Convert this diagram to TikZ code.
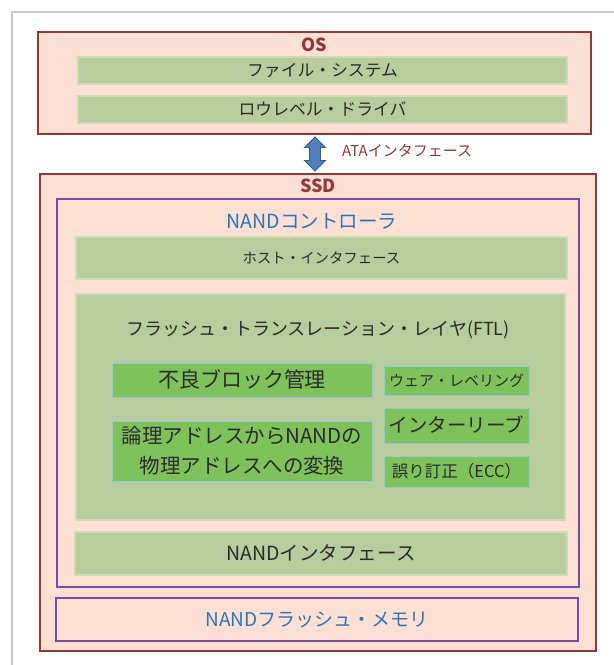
\documentclass[tikz,border=0pt]{standalone}
\usepackage{fontspec}
\setmainfont{Noto Sans CJK JP}
\usetikzlibrary{shapes.arrows}
\definecolor{peach}{HTML}{FBE0D3}
\definecolor{dred}{HTML}{953735}
\definecolor{bar}{HTML}{B8CC9C}
\definecolor{barline}{HTML}{CCDDB4}
\definecolor{bgreen}{HTML}{7EC25B}
\definecolor{bline}{HTML}{95C6DC}
\definecolor{purp}{HTML}{7B4BA8}
\definecolor{tblue}{HTML}{2E75B6}
\definecolor{arrfill}{HTML}{4F81BD}
\definecolor{arrline}{HTML}{385D8A}
\definecolor{txt}{HTML}{2B2B2B}
\newcommand{\fs}[1]{\fontsize{#1}{#1}\selectfont}
\tikzset{
  fsz/.style={font=\fs{#1}, text height={#1*0.87pt}, text depth={#1*0.13pt}},
  box/.style={rectangle, inner sep=0pt, outer sep=0pt},
  outerbox/.style={box, draw=dred, line width=2pt, fill=peach},
  purpbox/.style={box, draw=purp, line width=2.5pt},
  barbox/.style={box, draw=barline, line width=1.5pt, fill=bar, text=txt},
  gbox/.style={box, draw=bline, line width=1pt, fill=bgreen, text=txt},
  lbl/.style={inner sep=0pt},
}
\begin{document}
\begin{tikzpicture}[x=1pt,y=-1pt]
\useasboundingbox (0,0) rectangle (614,665);
\draw[color=black!22, line width=1.2pt] (12,670) -- (12,12) -- (620,12);
% OS
\node[outerbox, minimum width=553pt, minimum height=102pt] (os) at (314.5,83) {};
\node[lbl, fsz=18, font=\fs{18}\bfseries, text=dred] (oslbl) at (314.5,45) {OS};
\node[barbox, minimum width=489pt, minimum height=27pt, fsz=16.8] (fsys) at (322.5,70.5) {ファイル・システム};
\node[barbox, minimum width=489pt, minimum height=27pt, fsz=16.8] (drv) at (322.5,109.5) {ロウレベル・ドライバ};
% arrow
\node[double arrow, rotate=90, fill=arrfill, draw=arrline, line width=0.8pt,
  minimum height=34pt, minimum width=20pt, inner sep=5pt, double arrow head extend=5pt] (ata) at (315,154) {};
\node[lbl, anchor=west, fsz=15, text=dred] (atalbl) at (342,151) {ATAインタフェース};
% SSD
\node[outerbox, minimum width=556pt, minimum height=477pt] (ssd) at (318,412.5) {};
\node[lbl, fsz=18, font=\fs{18}\bfseries, text=dred] (ssdlbl) at (318,186) {SSD};
\node[purpbox, minimum width=522pt, minimum height=388pt] (ctrl) at (318,393) {};
\node[lbl, fsz=19.5, text=tblue] (ctrllbl) at (312,221) {NANDコントローラ};
\node[barbox, minimum width=491pt, minimum height=42pt, fsz=14.4] (host) at (321.5,258) {ホスト・インタフェース};
\node[barbox, minimum width=489pt, minimum height=226pt] (ftl) at (320.5,407) {};
\node[lbl, fsz=18, text=txt] (ftllbl) at (318,329) {フラッシュ・トランスレーション・レイヤ(FTL)};
\node[gbox, minimum width=260pt, minimum height=34pt, fsz=21] (bad) at (242,380) {不良ブロック管理};
\node[gbox, minimum width=145pt, minimum height=29pt, fsz=15] (wear) at (456.5,380.5) {ウェア・レベリング};
\node[gbox, minimum width=260pt, minimum height=60pt, font=\fs{20.5}, align=center] (logic) at (242,451)
  {論理アドレスからNANDの\\[9pt]物理アドレスへの変換};
\node[gbox, minimum width=145pt, minimum height=35pt, fsz=19.5] (inter) at (456.5,425.5) {インターリーブ};
\node[gbox, minimum width=145pt, minimum height=31pt, fsz=16.5] (ecc) at (456.5,471.5) {誤り訂正（ECC）};
\node[barbox, minimum width=492pt, minimum height=43pt, fsz=19.5] (nandif) at (321,553.5) {NANDインタフェース};
\node[purpbox, fill=peach, minimum width=522pt, minimum height=43pt, fsz=19, text=tblue] (flash) at (317,619.5) {NANDフラッシュ・メモリ};
\end{tikzpicture}
\end{document}
